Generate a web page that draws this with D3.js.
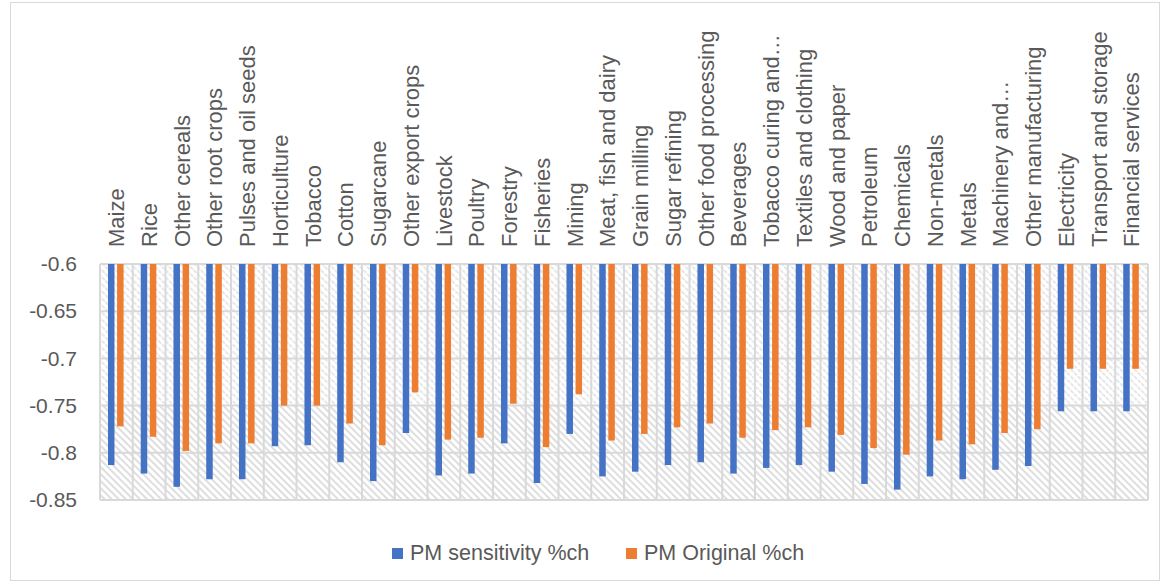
<!DOCTYPE html>
<html>
<head>
<meta charset="utf-8">
<script src="https://cdn.jsdelivr.net/npm/d3@7"></script>
<style>
  html, body { margin: 0; padding: 0; background: #fff; }
  svg { display: block; }
  text { font-family: "Liberation Sans", Arial, sans-serif; fill: #595959; }
</style>
</head>
<body>
<div id="chart"></div>
<script>
// Sector-level price changes (%), two model runs
const categories = [
  "Maize", "Rice", "Other cereals", "Other root crops", "Pulses and oil seeds",
  "Horticulture", "Tobacco", "Cotton", "Sugarcane", "Other export crops",
  "Livestock", "Poultry", "Forestry", "Fisheries", "Mining",
  "Meat, fish and dairy", "Grain milling", "Sugar refining", "Other food processing",
  "Beverages", "Tobacco curing and\u2026", "Textiles and clothing", "Wood and paper",
  "Petroleum", "Chemicals", "Non-metals", "Metals", "Machinery and\u2026",
  "Other manufacturing", "Electricity", "Transport and storage", "Financial services"
];
const pmSensitivity = [
  -0.813, -0.822, -0.836, -0.828, -0.828, -0.793, -0.792, -0.810, -0.830, -0.779,
  -0.824, -0.822, -0.790, -0.832, -0.780, -0.825, -0.820, -0.813, -0.810, -0.822,
  -0.816, -0.813, -0.820, -0.833, -0.839, -0.825, -0.828, -0.818, -0.814, -0.756,
  -0.756, -0.756
];
const pmOriginal = [
  -0.772, -0.783, -0.798, -0.790, -0.790, -0.750, -0.750, -0.769, -0.792, -0.736,
  -0.786, -0.784, -0.748, -0.794, -0.738, -0.787, -0.780, -0.773, -0.769, -0.784,
  -0.776, -0.773, -0.781, -0.795, -0.802, -0.787, -0.791, -0.779, -0.775, -0.711,
  -0.711, -0.711
];
const seriesNames = ["PM sensitivity %ch", "PM Original %ch"];
const seriesColors = ["#4472C4", "#ED7D31"];
const yTicks = [-0.6, -0.65, -0.7, -0.75, -0.8, -0.85];
const yTickLabels = ["-0.6", "-0.65", "-0.7", "-0.75", "-0.8", "-0.85"];

const W = 1163, H = 583;
const plot = { left: 100, right: 1148, top: 264, bottom: 500 };

const svg = d3.select("#chart").append("svg")
  .attr("width", W).attr("height", H);

// hatch fills for the plot area
const defs = svg.append("defs");
const hatchUpper = defs.append("pattern")
  .attr("id", "hatchUpper").attr("patternUnits", "userSpaceOnUse")
  .attr("width", 5).attr("height", 5)
  .attr("patternTransform", "rotate(-45)");
hatchUpper.append("rect").attr("width", 5).attr("height", 5).attr("fill", "#fff");
hatchUpper.append("line").attr("x1", 1).attr("x2", 1).attr("y1", 0).attr("y2", 5)
  .attr("stroke", "#e2e2e2").attr("stroke-width", 1.6).attr("stroke-dasharray", "2 1");

const hatchLower = defs.append("pattern")
  .attr("id", "hatchLower").attr("patternUnits", "userSpaceOnUse")
  .attr("width", 5).attr("height", 5)
  .attr("patternTransform", "rotate(-45)");
hatchLower.append("rect").attr("width", 5).attr("height", 5).attr("fill", "#fff");
hatchLower.append("line").attr("x1", 1).attr("x2", 1).attr("y1", 0).attr("y2", 5)
  .attr("stroke", "#d9d9d9").attr("stroke-width", 1.7);

// outer chart frame
svg.append("rect")
  .attr("x", 10.5).attr("y", 2.5).attr("width", W - 14).attr("height", H - 5)
  .attr("fill", "#fff").attr("stroke", "#d9d9d9").attr("stroke-width", 1);

const x = d3.scaleBand().domain(categories).range([plot.left, plot.right]).padding(0);
const y = d3.scaleLinear().domain([-0.6, -0.85]).range([plot.top, plot.bottom]);

// plot area background
svg.append("rect")
  .attr("x", plot.left).attr("y", y(-0.6))
  .attr("width", plot.right - plot.left).attr("height", y(-0.75) - y(-0.6))
  .attr("fill", "url(#hatchUpper)");
svg.append("rect")
  .attr("x", plot.left).attr("y", y(-0.75))
  .attr("width", plot.right - plot.left).attr("height", y(-0.85) - y(-0.75))
  .attr("fill", "url(#hatchLower)");

// gridlines
const grid = svg.append("g").attr("stroke", "#d9d9d9").attr("stroke-width", 2);
grid.selectAll("line.h").data(yTicks).join("line").attr("class", "h")
  .attr("x1", plot.left).attr("x2", plot.right)
  .attr("y1", d => y(d)).attr("y2", d => y(d));
const vEdges = categories.map(c => x(c)).concat([x(categories[categories.length - 1]) + x.bandwidth()]);
grid.selectAll("line.v").data(vEdges).join("line").attr("class", "v")
  .attr("x1", d => d).attr("x2", d => d)
  .attr("y1", plot.top).attr("y2", plot.bottom);

// y axis labels
const yAxis = d3.axisLeft(y).tickValues(yTicks)
  .tickFormat((d, i) => yTickLabels[i]).tickSize(0).tickPadding(0);
const yg = svg.append("g").attr("transform", `translate(77,0)`).call(yAxis);
yg.select(".domain").remove();
yg.selectAll("text").attr("font-size", 21).attr("fill", "#595959")
  .attr("font-family", "Liberation Sans, Arial, sans-serif");

// bars
const barW = 6.5, gap = 2.6;
const pairW = barW * 2 + gap;
const series = [pmSensitivity, pmOriginal];
series.forEach((vals, si) => {
  svg.append("g").selectAll("rect").data(categories).join("rect")
    .attr("x", (c) => x(c) + (x.bandwidth() - pairW) / 2 - 0.6 + si * (barW + gap))
    .attr("y", y(-0.6))
    .attr("width", barW)
    .attr("height", (c, i) => y(vals[i]) - y(-0.6))
    .attr("fill", seriesColors[si]);
});

// category labels above the plot
svg.append("g").selectAll("text").data(categories).join("text")
  .attr("transform", c => `translate(${x(c) + x.bandwidth() / 2 + 7.8},247) rotate(-90)`)
  .attr("text-anchor", "start")
  .attr("font-size", 22)
  .text(c => c);

// legend
const legendItems = [
  { name: seriesNames[0], color: seriesColors[0], x: 392 },
  { name: seriesNames[1], color: seriesColors[1], x: 626 }
];
const lg = svg.append("g");
legendItems.forEach(it => {
  lg.append("rect").attr("x", it.x).attr("y", 548).attr("width", 11).attr("height", 11)
    .attr("fill", it.color);
  lg.append("text").attr("x", it.x + 18).attr("y", 560)
    .attr("font-size", 21.5).text(it.name);
});
</script>
</body>
</html>
